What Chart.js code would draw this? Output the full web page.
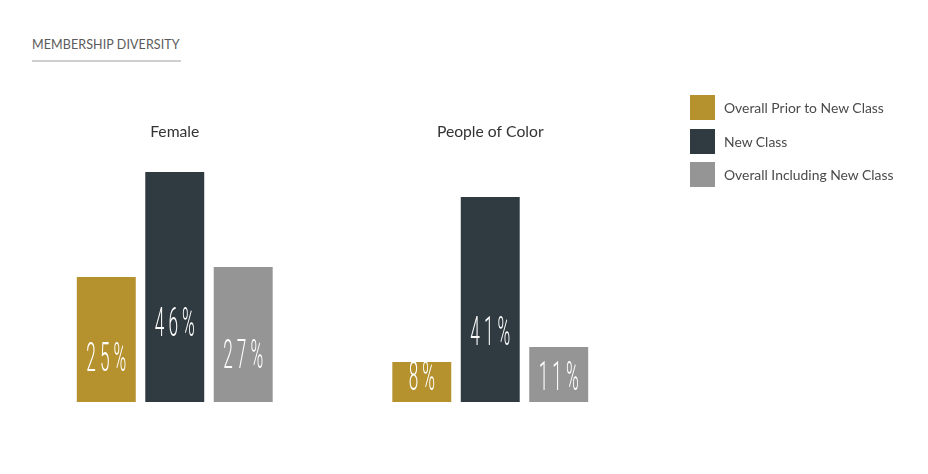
<!DOCTYPE html>
<html>
<head>
<meta charset="utf-8">
<script src="https://cdn.jsdelivr.net/npm/chart.js@4.4.1/dist/chart.umd.min.js"></script>
<style>
  html, body { margin: 0; padding: 0; background: #fff; }
  body { width: 928px; height: 474px; position: relative; overflow: hidden; font-family: 'Lato', 'Noto Sans', sans-serif; }
  .title { position: absolute; left: 32px; top: 37px; font-size: 12.5px; color: #5a5a5a; letter-spacing: 0.1px; }
  .title-line { position: absolute; left: 32px; top: 60px; width: 149px; height: 2px; background: #cfcfcf; }
  #chartWrap { position: absolute; left: 0; top: 0; width: 928px; height: 474px; }
  .legend { position: absolute; left: 690px; top: 95px; }
  .legend-item { display: flex; align-items: center; height: 25px; margin-bottom: 8.5px; font-size: 13.9px; color: #4a4a4a; }
  .legend-box { width: 25px; height: 25px; margin-right: 9px; }
</style>
</head>
<body>
<div class="title">MEMBERSHIP DIVERSITY</div>
<div class="title-line"></div>
<div id="chartWrap"><canvas id="diversityChart" width="928" height="474"></canvas></div>
<div class="legend" id="legend"></div>
<script>
const categories = ['Female', 'People of Color'];
const seriesNames = ['Overall Prior to New Class', 'New Class', 'Overall Including New Class'];
const priorValues = [25, 8];
const newClassValues = [46, 41];
const overallValues = [27, 11];
const seriesColors = ['#b6922f', '#2f3a41', '#959596'];

document.addEventListener('DOMContentLoaded', function () {
  const seriesValues = [priorValues, newClassValues, overallValues];

  // Legend built from the series
  const legend = document.getElementById('legend');
  seriesNames.forEach((name, i) => {
    const item = document.createElement('div');
    item.className = 'legend-item';
    item.innerHTML = '<span class="legend-box" style="background:' + seriesColors[i] + '"></span>' + name;
    legend.appendChild(item);
  });

  // Category names above each group
  const categoryLabels = {
    id: 'categoryLabels',
    afterDraw(chart) {
      const ctx = chart.ctx;
      const xScale = chart.scales.x;
      ctx.save();
      ctx.fillStyle = '#333';
      ctx.font = '15.7px Lato, "Noto Sans", sans-serif';
      ctx.textAlign = 'center';
      ctx.textBaseline = 'middle';
      categories.forEach((c, i) => {
        ctx.fillText(c, xScale.getPixelForValue(i), chart.chartArea.top - 20);
      });
      ctx.restore();
    }
  };

  // Condensed white percentage inside each bar
  const barLabels = {
    id: 'barLabels',
    afterDatasetsDraw(chart) {
      const ctx = chart.ctx;
      ctx.save();
      ctx.fillStyle = '#fff';
      ctx.font = '300 41px Roboto, sans-serif';
      ctx.textBaseline = 'middle';
      const sx = 0.42, spacing = 4;
      chart.data.datasets.forEach((ds, di) => {
        chart.getDatasetMeta(di).data.forEach((bar, i) => {
          const text = ds.data[i] + '%';
          const h = bar.base - bar.y;
          const cy = bar.base - Math.max(h * 0.33, 22);
          const chars = text.split('');
          const widths = chars.map(ch => ctx.measureText(ch).width * sx);
          const total = widths.reduce((a, b) => a + b, 0) + spacing * (chars.length - 1);
          let x = bar.x - total / 2;
          chars.forEach((ch, k) => {
            ctx.save();
            ctx.translate(x, cy);
            ctx.scale(sx, 1);
            ctx.fillText(ch, 0, 0);
            ctx.restore();
            x += widths[k] + spacing;
          });
        });
      });
      ctx.restore();
    }
  };

  const ctx = document.getElementById('diversityChart').getContext('2d');
  new Chart(ctx, {
    type: 'bar',
    data: {
      labels: categories,
      datasets: seriesNames.map((name, i) => ({
        label: name,
        data: seriesValues[i],
        backgroundColor: seriesColors[i],
        borderWidth: 0,
        categoryPercentage: 0.651,
        barPercentage: 0.861
      }))
    },
    options: {
      responsive: false,
      animation: false,
      layout: { padding: { left: 17, right: 280, top: 152, bottom: 72 } },
      plugins: {
        legend: { display: false },
        tooltip: { enabled: false }
      },
      scales: {
        x: { display: false },
        y: { display: false, min: 0, max: 50 }
      }
    },
    plugins: [categoryLabels, barLabels]
  });
});
</script>
</body>
</html>
